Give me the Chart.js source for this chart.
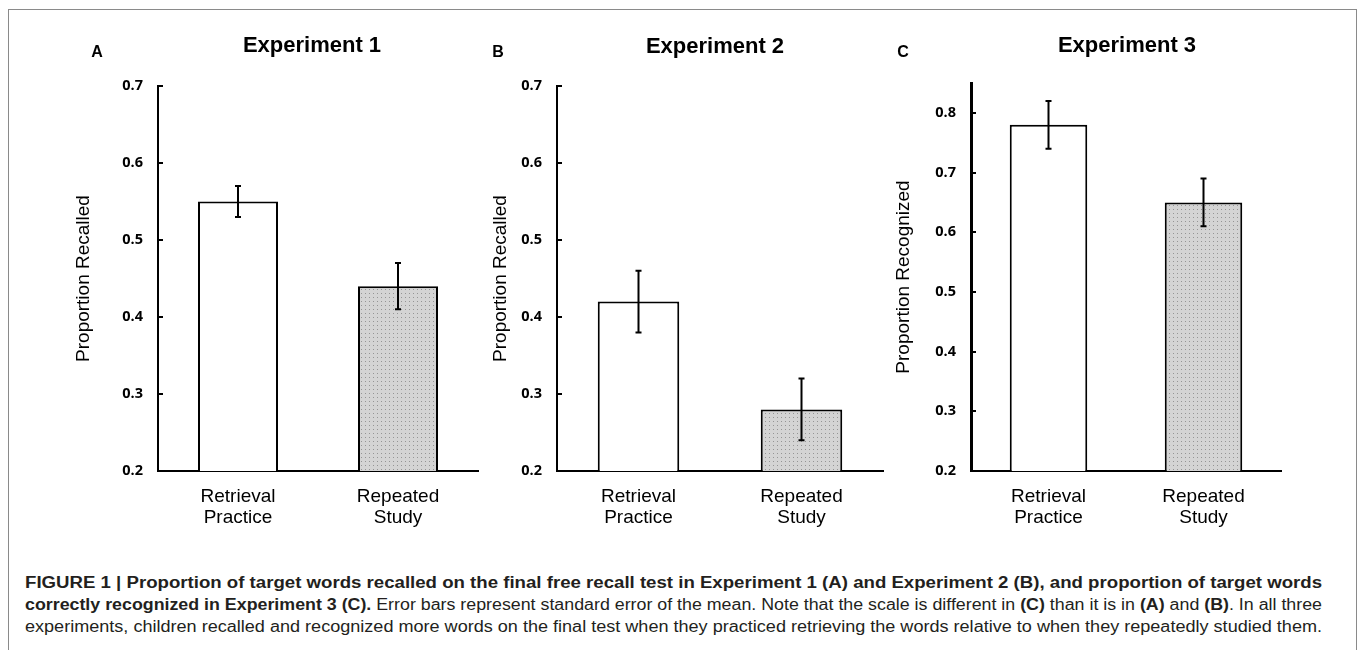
<!DOCTYPE html>
<html>
<head>
<meta charset="utf-8">
<script src="https://cdn.jsdelivr.net/npm/chart.js@4.4.1/dist/chart.umd.min.js"></script>
<style>
    body { margin: 0; background: #fff; width: 1358px; height: 650px; overflow: hidden; position: relative; font-family: "Liberation Sans", Arial, sans-serif; }
    #marco { position: absolute; left: 8px; top: 9px; width: 1349px; height: 700px; box-sizing: border-box; border: 1px solid #8a8a8a; }
    .panel { position: absolute; top: 0; }
    .titulo { position: absolute; font-weight: bold; font-size: 22px; transform: translate(-50%, -50%); white-space: nowrap; color: #000; }
    .letra { position: absolute; font-weight: bold; font-size: 16px; transform: translate(-50%, -50%); color: #000; }
    .linea { position: absolute; left: 25px; font-family: "Liberation Sans Narrow", "Liberation Sans", Arial, sans-serif; font-size: 16px; white-space: nowrap; color: #231f20; transform-origin: 0 50%; line-height: 22px; }
</style>
</head>
<body>
<div id="marco"></div>

<canvas id="graficoA" class="panel" width="480" height="540" style="left:0px"></canvas>
<canvas id="graficoB" class="panel" width="400" height="540" style="left:488px"></canvas>
<canvas id="graficoC" class="panel" width="470" height="540" style="left:888px"></canvas>

<div class="letra" style="left:97px;top:52px">A</div>
<div class="letra" style="left:498px;top:52px">B</div>
<div class="letra" style="left:903px;top:52px">C</div>
<div class="titulo" style="left:312px;top:45px">Experiment 1</div>
<div class="titulo" style="left:715px;top:46px">Experiment 2</div>
<div class="titulo" style="left:1127px;top:45px">Experiment 3</div>

<div class="linea" style="top:572px"><b>FIGURE 1 | Proportion of target words recalled on the final free recall test in Experiment 1 (A) and Experiment 2 (B), and proportion of target words</b></div>
<div class="linea" style="top:594px"><b>correctly recognized in Experiment 3 (C).</b> Error bars represent standard error of the mean. Note that the scale is different in <b>(C)</b> than it is in <b>(A)</b> and <b>(B)</b>. In all three</div>
<div class="linea" style="top:616px">experiments, children recalled and recognized more words on the final test when they practiced retrieving the words relative to when they repeatedly studied them.</div>

<script>
// datos
const categorias = [["Retrieval", "Practice"], ["Repeated", "Study"]];

const mediasExp1 = [0.55, 0.44];
const erroresExp1 = [0.02, 0.03];

const mediasExp2 = [0.42, 0.28];
const erroresExp2 = [0.04, 0.04];

const mediasExp3 = [0.78, 0.65];
const erroresExp3 = [0.04, 0.04];

const rangoRecuerdo = [0.2, 0.7];
const rangoReconocimiento = [0.2, 0.85];
const pasoTicks = 0.1;

function patronPuntos() {
    let c = document.createElement('canvas');
    c.width = 4;
    c.height = 4;
    let g = c.getContext('2d');
    g.fillStyle = '#d4d4d4';
    g.fillRect(0, 0, 4, 4);
    g.fillStyle = '#959595';
    g.fillRect(1, 1, 1, 1);
    return g.createPattern(c, 'repeat');
}

// barras de error y marcas del eje y, con la escala y de cada grafico
const barrasError = {
    id: 'barrasError',
    afterDraw(chart) {
        const ctx = chart.ctx;
        const escalaY = chart.scales.y;
        const ds = chart.data.datasets[0];
        const meta = chart.getDatasetMeta(0);
        ctx.save();
        ctx.strokeStyle = '#000';
        ctx.lineWidth = 2;
        meta.data.forEach(function(barra, i) {
            let arriba = escalaY.getPixelForValue(ds.data[i] + ds.errores[i]);
            let abajo = escalaY.getPixelForValue(ds.data[i] - ds.errores[i]);
            ctx.beginPath();
            ctx.moveTo(barra.x, arriba);
            ctx.lineTo(barra.x, abajo);
            ctx.moveTo(barra.x - 3, arriba);
            ctx.lineTo(barra.x + 3, arriba);
            ctx.moveTo(barra.x - 3, abajo);
            ctx.lineTo(barra.x + 3, abajo);
            ctx.stroke();
        });
        // marcas cortas hacia dentro
        let xEje = chart.chartArea.left;
        escalaY.ticks.forEach(function(t) {
            let py = Math.round(escalaY.getPixelForValue(t.value));
            ctx.beginPath();
            ctx.moveTo(xEje - 1, py);
            ctx.lineTo(xEje + 5, py);
            ctx.stroke();
        });
        ctx.restore();
    }
};

function crearPanel(id, medias, errores, rango, tituloY, p) {
    let ctx = document.getElementById(id).getContext('2d');
    return new Chart(ctx, {
        type: 'bar',
        data: {
            labels: categorias,
            datasets: [{
                data: medias,
                errores: errores,
                base: rango[0],
                backgroundColor: ['#ffffff', patronPuntos()],
                borderColor: '#000',
                borderWidth: 2,
                borderSkipped: 'bottom',
                barPercentage: 0.5,
                categoryPercentage: 1.0
            }]
        },
        options: {
            responsive: false,
            animation: false,
            layout: { padding: { left: 0, top: p.arriba, right: p.derecha, bottom: 0 } },
            plugins: {
                legend: { display: false },
                tooltip: { enabled: false }
            },
            scales: {
                x: {
                    grid: { display: false, drawTicks: false },
                    border: { display: true, color: '#000', width: 2 },
                    ticks: {
                        color: '#000',
                        padding: 15,
                        maxRotation: 0,
                        autoSkip: false,
                        font: { family: '"Liberation Sans", Arial', size: 19, lineHeight: 1.12 }
                    },
                    afterFit: function(s) { s.height = p.altoX; }
                },
                y: {
                    min: rango[0],
                    max: rango[1],
                    afterBuildTicks: function(s) {
                        s.ticks = s.ticks.filter(function(t) {
                            return Math.abs(t.value / pasoTicks - Math.round(t.value / pasoTicks)) < 1e-6;
                        });
                    },
                    ticks: {
                        stepSize: pasoTicks,
                        padding: 15,
                        color: '#000',
                        font: { family: '"Open Sans"', weight: 'bold', size: 14.5 },
                        callback: function(v) { return Number(v).toFixed(1); }
                    },
                    grid: { display: false, drawTicks: false },
                    border: { display: true, color: '#000', width: p.ejeY },
                    title: {
                        display: true,
                        text: tituloY,
                        color: '#000',
                        font: { family: '"Liberation Sans", Arial', size: 19 },
                        padding: { top: p.tituloY, bottom: 0 }
                    },
                    afterFit: function(s) { s.width = p.anchoY; }
                }
            }
        },
        plugins: [barrasError]
    });
}

crearPanel('graficoA', mediasExp1, erroresExp1, rangoRecuerdo, 'Proportion Recalled',
    { arriba: 86, derecha: 2, altoX: 69, anchoY: 158, tituloY: 72, ejeY: 2 });
crearPanel('graficoB', mediasExp2, erroresExp2, rangoRecuerdo, 'Proportion Recalled',
    { arriba: 86, derecha: 5, altoX: 69, anchoY: 69, tituloY: 1, ejeY: 2 });
crearPanel('graficoC', mediasExp3, erroresExp3, rangoReconocimiento, 'Proportion Recognized',
    { arriba: 83, derecha: 77, altoX: 69, anchoY: 83, tituloY: 4, ejeY: 3 });

// ajustar cada linea del pie al ancho del original
const anchoLeyenda = 1297;
document.querySelectorAll('.linea').forEach(function(l) {
    let w = l.getBoundingClientRect().width;
    l.style.transform = 'scaleX(' + (anchoLeyenda / w) + ')';
});
</script>
</body>
</html>
